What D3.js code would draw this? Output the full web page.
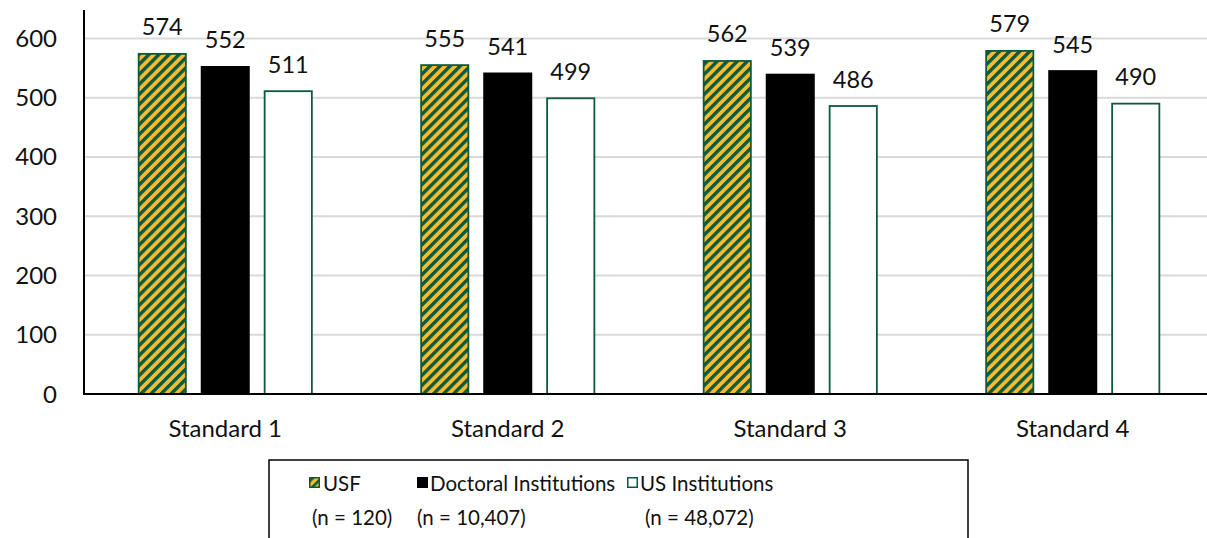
<!DOCTYPE html>
<html>
<head>
<meta charset="utf-8">
<script src="https://cdn.jsdelivr.net/npm/d3@7"></script>
<style>
  html, body { margin: 0; padding: 0; background: #fff; }
  svg { display: block; }
  text { font-family: Lato, "Open Sans", sans-serif; fill: #111; }
</style>
</head>
<body>
<svg id="chart" width="1207" height="538"></svg>
<script>
const categories = ["Standard 1", "Standard 2", "Standard 3", "Standard 4"];
const seriesNames = ["USF", "Doctoral Institutions", "US Institutions"];
const seriesN = ["(n = 120)", "(n = 10,407)", "(n = 48,072)"];
const usfValues = [574, 555, 562, 579];
const doctoralValues = [552, 541, 539, 545];
const usValues = [511, 499, 486, 490];
const yTicks = [0, 100, 200, 300, 400, 500, 600];

const seriesValues = [usfValues, doctoralValues, usValues];
const data = categories.map((c, i) => ({
  category: c,
  values: seriesNames.map((s, j) => ({ series: s, value: seriesValues[j][i] }))
}));

const GREEN = "#0b5a3b";
const YELLOW = "#fbbb31";

const svg = d3.select("#chart");
const defs = svg.append("defs");
const pat = defs.append("pattern")
  .attr("id", "hatch")
  .attr("patternUnits", "userSpaceOnUse")
  .attr("width", 7.1).attr("height", 7.1)
  .attr("patternTransform", "rotate(45)");
pat.append("rect").attr("width", 7.1).attr("height", 7.1).attr("fill", YELLOW);
pat.append("rect").attr("width", 3.4).attr("height", 7.1).attr("fill", GREEN);

const patS = defs.append("pattern")
  .attr("id", "hatchSmall")
  .attr("patternUnits", "userSpaceOnUse")
  .attr("width", 6).attr("height", 6)
  .attr("patternTransform", "rotate(45)");
patS.append("rect").attr("width", 6).attr("height", 6).attr("fill", YELLOW);
patS.append("rect").attr("width", 2.6).attr("height", 6).attr("fill", GREEN);

const fills = [ "url(#hatch)", "#000000", "#ffffff" ];
const strokes = [ GREEN, "#000000", GREEN ];

const plotLeft = 84, plotRight = 1214, plotTop = 10, plotBottom = 394;

const y = d3.scaleLinear().domain([0, 648]).range([plotBottom, plotTop]);
const x0 = d3.scaleBand().domain(categories).range([plotLeft, plotRight])
  .paddingInner(0.331).paddingOuter(0.1655);
const x1 = d3.scaleBand().domain(seriesNames).range([0, x0.bandwidth()])
  .paddingInner(0.222).paddingOuter(0.111);

// gridlines
svg.append("g").selectAll("line")
  .data(yTicks.filter(t => t > 0))
  .join("line")
  .attr("x1", plotLeft).attr("x2", 1207)
  .attr("y1", d => y(d)).attr("y2", d => y(d))
  .attr("stroke", "#d9d9d9").attr("stroke-width", 2);

// y tick labels
svg.append("g").selectAll("text")
  .data(yTicks)
  .join("text")
  .attr("x", 57).attr("y", d => y(d) + 8.5)
  .attr("text-anchor", "end")
  .attr("font-size", 24)
  .text(d => d);

// bars
const groups = svg.append("g").selectAll("g")
  .data(data)
  .join("g")
  .attr("transform", d => `translate(${x0(d.category)},0)`);

groups.selectAll("rect")
  .data(d => d.values)
  .join("rect")
  .attr("x", d => x1(d.series) + 0.9)
  .attr("width", x1.bandwidth() - 1.8)
  .attr("y", d => y(d.value))
  .attr("height", d => y(0) - y(d.value))
  .attr("fill", (d, i) => fills[i])
  .attr("stroke", (d, i) => strokes[i])
  .attr("stroke-width", 1.8);

groups.selectAll("text.val")
  .data(d => d.values)
  .join("text")
  .attr("class", "val")
  .attr("x", d => x1(d.series) + x1.bandwidth() / 2)
  .attr("y", d => y(d.value) - 18.5)
  .attr("text-anchor", "middle")
  .attr("font-size", 23.5)
  .text(d => d.value);

// axes lines
svg.append("line")
  .attr("x1", plotLeft).attr("x2", plotLeft)
  .attr("y1", plotTop).attr("y2", plotBottom + 1)
  .attr("stroke", "#000").attr("stroke-width", 2);
svg.append("line")
  .attr("x1", plotLeft - 1).attr("x2", 1207)
  .attr("y1", plotBottom).attr("y2", plotBottom)
  .attr("stroke", "#000").attr("stroke-width", 2);

// category labels
svg.append("g").selectAll("text")
  .data(categories)
  .join("text")
  .attr("x", d => x0(d) + x0.bandwidth() / 2)
  .attr("y", 437)
  .attr("text-anchor", "middle")
  .attr("font-size", 24)
  .text(d => d);

// legend
const legend = svg.append("g");
legend.append("rect")
  .attr("x", 269).attr("y", 460)
  .attr("width", 699).attr("height", 100)
  .attr("fill", "none").attr("stroke", "#000").attr("stroke-width", 1.5);

const legendSwatchX = [309, 417, 627];
const legendTextX = [323, 430, 640];
const legendNX = [312, 417, 645];
const swFills = ["url(#hatchSmall)", "#000", "#fff"];
seriesNames.forEach((s, i) => {
  legend.append("rect")
    .attr("x", legendSwatchX[i] + 0.75).attr("y", 477.75)
    .attr("width", 9.5).attr("height", 9.5)
    .attr("fill", swFills[i])
    .attr("stroke", strokes[i]).attr("stroke-width", 1.5);
  legend.append("text")
    .attr("x", legendTextX[i]).attr("y", 491)
    .attr("font-size", 20.5)
    .text(s);
  legend.append("text")
    .attr("x", legendNX[i]).attr("y", 525)
    .attr("font-size", 20.5)
    .text(seriesN[i]);
});
</script>
</body>
</html>
